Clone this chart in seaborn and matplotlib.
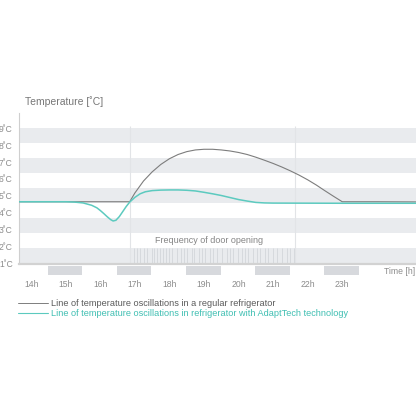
import matplotlib
matplotlib.use("Agg")
import matplotlib.pyplot as plt
from matplotlib.patches import Rectangle
import seaborn as sns
import pandas as pd

# values
hours_regular = [13.65, 14.0, 15.0, 16.0, 16.85, 17.0, 17.25, 17.5, 17.75, 18.0, 18.25, 18.5,
                 18.75, 19.0, 19.25, 19.5, 19.75, 20.0, 20.25, 20.5, 20.75, 21.0, 21.25,
                 21.5, 21.75, 22.0, 22.25, 22.5, 22.75, 23.0, 24.0, 25.13]
temp_regular = [4.65, 4.65, 4.65, 4.65, 4.65, 5.17, 5.88, 6.42, 6.86, 7.20, 7.45, 7.62,
                7.72, 7.76, 7.76, 7.72, 7.66, 7.57, 7.45, 7.29, 7.11, 6.92, 6.71,
                6.48, 6.23, 5.95, 5.64, 5.30, 4.97, 4.65, 4.65, 4.64]

hours_adapt = [13.65, 14.0, 14.5, 15.0, 15.25, 15.5, 15.75, 15.9, 16.0, 16.1, 16.2, 16.3,
               16.37, 16.45, 16.55, 16.65, 16.75, 16.85, 17.0, 17.15, 17.3, 17.5, 17.75,
               18.0, 18.25, 18.5, 18.75, 19.0, 19.25, 19.5, 19.75, 20.0, 20.25, 20.5,
               20.75, 21.0, 23.0, 25.13]
temp_adapt = [4.65, 4.65, 4.65, 4.65, 4.63, 4.58, 4.44, 4.29, 4.13, 3.95, 3.76, 3.59,
              3.51, 3.55, 3.77, 4.07, 4.37, 4.63, 4.91, 5.12, 5.24, 5.31, 5.34,
              5.35, 5.35, 5.33, 5.29, 5.21, 5.12, 5.02, 4.90, 4.78, 4.69, 4.61,
              4.58, 4.57, 4.56, 4.56]

door_openings = [16.98, 17.05, 17.15, 17.26, 17.36, 17.49, 17.55, 17.63, 17.73, 17.82,
                 17.89, 18.00, 18.07, 18.21, 18.33, 18.42, 18.50, 18.64, 18.72, 18.86,
                 18.94, 19.03, 19.17, 19.27, 19.37, 19.51, 19.66, 19.75, 19.85, 19.99,
                 20.09, 20.19, 20.28, 20.43, 20.52, 20.62, 20.77, 20.86, 21.01, 21.10,
                 21.25, 21.39, 21.49, 21.60]
door_window = [16.86, 21.63]

hour_ticks = [14, 15, 16, 17, 18, 19, 20, 21, 22, 23]
hour_labels = [f"{h}h" for h in hour_ticks]
hour_blocks = [15, 17, 19, 21, 23]
temp_ticks = [1, 2, 3, 4, 5, 6, 7, 8, 9]
temp_labels = [f"{t}˚C" for t in temp_ticks]

GRAY_LINE = "#7d7d7d"
TEAL = "#5ccabf"
BAND = "#e9ebee"
TXT = "#8c8c8c"

sns.set_theme(style="white")
plt.rcParams["font.family"] = ["Liberation Sans", "DejaVu Sans"]

fig = plt.figure(figsize=(4.16, 4.16), dpi=100)
ax = fig.add_axes([19 / 416, 1 - 264 / 416, 397 / 416, 151 / 416])
ax.set_xlim(13.647, 25.134)
ax.set_ylim(0.96, 9.91)

# alternating horizontal bands between 1 and 9
step = 8 / 9
for i in range(0, 9, 2):
    ax.axhspan(1 + i * step, 1 + (i + 1) * step, color=BAND, lw=0, zorder=0)

# door opening window and ticks
ax.vlines(door_window, 1, 9.15, color="#e2e4e7", lw=0.8, zorder=1)
ax.vlines(door_openings, 1, 1 + step, color="#d3d6da", lw=0.6, zorder=1)
ax.text(sum(door_window) / 2 - 0.1, 2.35, "Frequency of door opening", ha="center",
        va="center", fontsize=6.5, color="#858585")

df_reg = pd.DataFrame({"hour": hours_regular, "temp": temp_regular})
df_ad = pd.DataFrame({"hour": hours_adapt, "temp": temp_adapt})
sns.lineplot(data=df_reg, x="hour", y="temp", color=GRAY_LINE, lw=0.8, ax=ax,
             sort=False, zorder=3)
sns.lineplot(data=df_ad, x="hour", y="temp", color=TEAL, lw=1.1, ax=ax,
             sort=False, zorder=4)

# gray hour blocks under the axis
for h in hour_blocks:
    ax.add_patch(Rectangle((h - 0.52, 0.31), 1.0, 0.53, color="#d7d9dd", lw=0,
                           clip_on=False))

ax.set_xticks(hour_ticks, hour_labels)
ax.set_yticks(temp_ticks, temp_labels)
ax.tick_params(axis="x", length=0, pad=11.5, labelsize=6.2, labelcolor=TXT)
ax.tick_params(axis="y", length=0, pad=4.5, labelsize=6.2, labelcolor=TXT)
ax.set_xlabel("")
ax.set_ylabel("")

for s in ["top", "right"]:
    ax.spines[s].set_visible(False)
ax.spines["left"].set_color("#cfcfcf")
ax.spines["left"].set_linewidth(0.8)
ax.spines["bottom"].set_color("#d2d2d2")
ax.spines["bottom"].set_linewidth(1.6)

fig.text(25 / 416, 1 - 101.5 / 416, "Temperature [˚C]", fontsize=7.5, color="#777777",
         va="center", ha="left")
fig.text(415 / 416, 1 - 272 / 416, "Time [h]", fontsize=6.2, color=TXT, va="center",
         ha="right")

# legend drawn by hand to match the layout
fig.add_artist(plt.Line2D([18 / 416, 48 / 416], [1 - 303.3 / 416] * 2, color=GRAY_LINE, lw=0.7))
fig.add_artist(plt.Line2D([18 / 416, 48 / 416], [1 - 313.3 / 416] * 2, color=TEAL, lw=0.8))
fig.text(50.7 / 416, 1 - 303.3 / 416, "Line of temperature oscillations in a regular refrigerator",
         fontsize=6.6, color="#5a5a5a", va="center", ha="left")
fig.text(50.7 / 416, 1 - 313.3 / 416,
         "Line of temperature oscillations in refrigerator with AdaptTech technology",
         fontsize=6.6, color="#3fbfb2", va="center", ha="left")

fig.savefig("out.png", dpi=100)
